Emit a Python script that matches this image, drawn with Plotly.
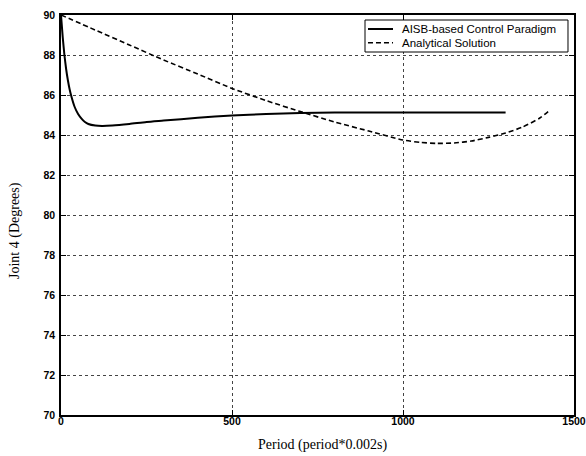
import plotly.graph_objects as go

# AISB-based control paradigm
aisb_x = [0, 5, 10, 15, 20, 25, 30, 40, 50, 60, 70, 80, 100, 120, 150, 200, 250, 300, 400, 500,
          600, 700, 800, 900, 1000, 1100, 1200, 1300]
aisb_y = [90.0, 88.9, 88.0, 87.3, 86.75, 86.3, 85.95, 85.4, 85.05, 84.82, 84.65, 84.55, 84.47, 84.45,
          84.47, 84.55, 84.65, 84.72, 84.86, 84.98, 85.05, 85.1, 85.12, 85.13, 85.13, 85.13, 85.13, 85.13]

# Analytical solution
anal_x = [0, 100, 200, 300, 400, 500, 600, 700, 800, 900, 1000, 1050, 1100, 1150, 1200, 1250,
          1300, 1350, 1400, 1430]
anal_y = [90.0, 89.25, 88.5, 87.75, 87.05, 86.33, 85.72, 85.17, 84.65, 84.2, 83.75, 83.63, 83.58,
          83.6, 83.7, 83.88, 84.1, 84.4, 84.85, 85.25]

x_ticks = [0, 500, 1000, 1500]
y_ticks = [70, 72, 74, 76, 78, 80, 82, 84, 86, 88, 90]

series_names = ["AISB-based Control Paradigm", "Analytical Solution"]
x_title = "Period (period*0.002s)"
y_title = "Joint 4 (Degrees)"

solid = dict(color="black", width=2)
dashed = dict(color="black", width=1.6, dash="5px,3px")

fig = go.Figure()
fig.add_trace(go.Scatter(x=aisb_x, y=aisb_y, mode="lines", name=series_names[0],
                         line=dict(**solid, shape="spline", smoothing=0.6), showlegend=False))
fig.add_trace(go.Scatter(x=anal_x, y=anal_y, mode="lines", name=series_names[1],
                         line=dict(**dashed, shape="spline", smoothing=0.6), showlegend=False))

axis_common = dict(
    showline=True, linecolor="black", linewidth=1.5, mirror="ticks",
    ticks="inside", ticklen=5, tickcolor="black", tickwidth=1,
    showgrid=True, gridcolor="#444444", griddash="dot", gridwidth=1,
    zeroline=False, automargin=False,
    tickfont=dict(family="Liberation Sans, Arial", size=10.5, color="black", weight="bold"),
)

fig.update_xaxes(range=[0, 1500], tickvals=x_ticks, ticktext=[str(v) for v in x_ticks],
                 ticklabelstandoff=-4, **axis_common)
fig.update_yaxes(range=[70, 90], tickvals=y_ticks, ticktext=[str(v) for v in y_ticks],
                 ticklabelstandoff=2, **axis_common)

title_font = dict(family="Liberation Serif, Times New Roman", size=14, color="black")
legend_font = dict(family="Liberation Sans, Arial", size=11.5, color="black")

# legend box (drawn manually to match compact MATLAB legend)
fig.add_shape(type="rect", xref="x domain", yref="y domain", x0=0.5926, x1=0.9883,
              y0=0.9075, y1=0.9875, line=dict(color="black", width=1), fillcolor="white",
              layer="above")
legend_rows = [0.965, 0.9308]
for name, style, yr in zip(series_names, [solid, dashed], legend_rows):
    fig.add_shape(type="line", xref="x domain", yref="y domain", x0=0.5984, x1=0.6472,
                  y0=yr, y1=yr, line=style, layer="above")
    fig.add_annotation(text=name, xref="x domain", yref="y domain", x=0.6608, y=yr,
                       xanchor="left", yanchor="middle", showarrow=False, font=legend_font)

fig.add_annotation(text=x_title, xref="paper", yref="paper", x=0.5088, y=-0.075,
                   xanchor="center", yanchor="middle", showarrow=False, font=title_font)
fig.add_annotation(text=y_title, xref="paper", yref="paper", x=-0.0897, y=0.4625,
                   xanchor="center", yanchor="middle", textangle=-90, showarrow=False,
                   font=title_font)

fig.update_layout(
    width=586, height=456,
    margin=dict(l=61, r=12, t=15, b=41),
    plot_bgcolor="white", paper_bgcolor="white",
    showlegend=False,
)

# remove the default page margin so the 586x456 figure fills the window exactly
fig.write_html("out.html", config={"displayModeBar": False},
               post_script="document.body.style.margin='0';document.body.style.overflow='hidden';")
